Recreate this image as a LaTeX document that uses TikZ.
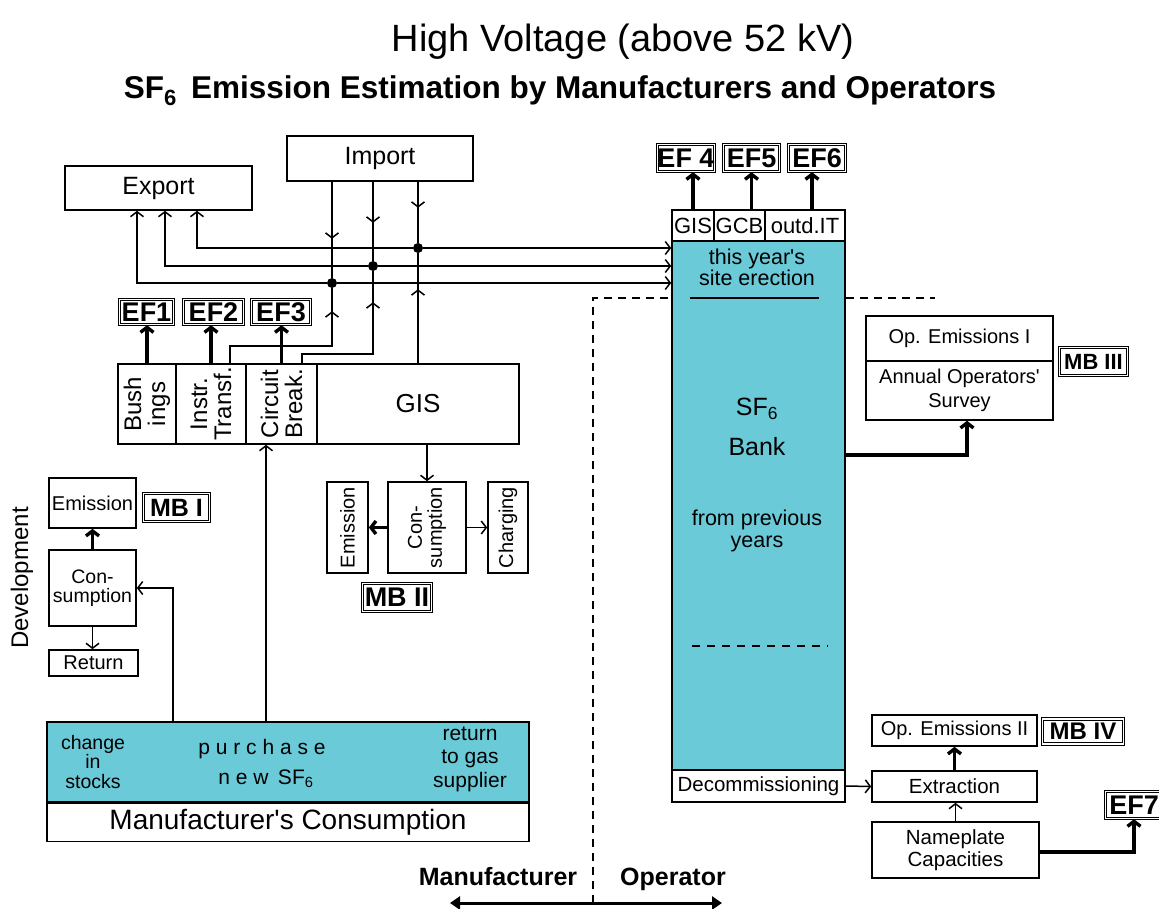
\documentclass[tikz,border=0pt]{standalone}
\usepackage{fontspec}
\setmainfont{Liberation Sans}
\usetikzlibrary{arrows.meta,decorations.markings}
\definecolor{bankcyan}{RGB}{106,202,216}
\newcommand{\fsz}[2]{\fontsize{#1}{#2}\selectfont}
\tikzset{
  box/.style={draw,line width=1.6pt,inner sep=0pt,fill=white,align=center},
  efbox/.style={draw,line width=1.4pt,double,double distance=1.1pt,inner sep=0pt,fill=white,font=\bfseries\fsz{27}{27}},
  wire/.style={line width=1.5pt},
  flow/.style={line width=1.5pt,-{Straight Barb[length=5pt,width=13pt]}},
  heavy/.style={line width=3.4pt,-{Straight Barb[length=5pt,width=13pt]}},
  dot/.style={circle,fill=black,inner sep=0pt,minimum size=10pt},
  vtext/.style={rotate=90,align=center},
  divline/.style={line width=1.5pt,dash pattern=on 8pt off 6pt},
  midarrow/.style={postaction={decorate},decoration={markings,mark=at position #1 with {\arrow{Straight Barb[length=5pt,width=13pt]}}}},
}
\begin{document}
\begin{tikzpicture}[x=1pt,y=-1pt]
  \useasboundingbox (0,0) rectangle (1159,909);
  % titles
  \node[anchor=base,font=\fsz{38}{38}] (title) at (623,52) {High Voltage (above 52 kV)};
  \node[anchor=base,font=\bfseries\fsz{31.5}{31.5}] (subtitle) at (560,99) {SF\textsubscript{6}\hspace{0.45em}Emission Estimation by Manufacturers and Operators};

  % export / import
  \node[box,minimum width=187,minimum height=44,font=\fsz{25}{25}] (export) at (158.5,188) {Export};
  \node[box,minimum width=186,minimum height=45,font=\fsz{25}{25}] (import) at (380,158.5) {Import};
  \node[dot] (d1) at (332,283) {};
  \node[dot] (d2) at (373,266) {};
  \node[dot] (d3) at (418,248) {};

  % manufacturer's products
  \node[box,minimum width=58,minimum height=80] (bush) at (147,404) {};
  \node[vtext,font=\fsz{24}{24}] (bushtxt) at (bush) {Bush\\ings};
  \node[box,minimum width=70,minimum height=80] (instr) at (211,404) {};
  \node[vtext,font=\fsz{24}{24}] (instrtxt) at (instr) {Instr.\\Transf.};
  \node[box,minimum width=71,minimum height=80] (circ) at (281.5,404) {};
  \node[vtext,font=\fsz{24}{24}] (circtxt) at (circ) {Circuit\\Break.};
  \node[box,minimum width=202,minimum height=80,font=\fsz{26}{26}] (gis) at (418,404) {GIS};

  \node[efbox,minimum width=54,minimum height=25] (ef1) at (146.5,312) {EF1};
  \node[efbox,minimum width=60,minimum height=25] (ef2) at (213.5,312) {EF2};
  \node[efbox,minimum width=59,minimum height=25] (ef3) at (281,312) {EF3};
  \draw[heavy] (bush.north) -- (bush.north |- ef1.south);
  \draw[heavy] (instr.north) -- (instr.north |- ef2.south);
  \draw[heavy] (circ.north) -- (circ.north |- ef3.south);

  % flows to export and bank
  \draw[wire,midarrow=57pt] (import.south -| d1) -- (d1);
  \draw[wire,midarrow=41pt] (import.south -| d2) -- (d2);
  \draw[wire,midarrow=26pt] (import.south -| d3) -- (d3);
  \draw[wire,midarrow=154pt] ([xshift=19]instr.north) -- ++(0,-17) -| (d1);
  \draw[wire,midarrow=132pt] ([xshift=20.5]circ.north) -- ++(0,-9) -| (d2);
  \draw[wire,midarrow=74pt] (gis.north -| d3) -- (d3);
  \draw[flow] (d1) -| ([xshift=-21.5]export.south);
  \draw[flow] (d2) -| ([xshift=6.5]export.south);
  \draw[flow] (d3) -| ([xshift=38.5]export.south);

  % development
  \node[box,minimum width=87,minimum height=50,font=\fsz{20}{20}] (emis1) at (92.5,503) {Emission};
  \node[efbox,minimum width=66,minimum height=28,font=\bfseries\fsz{25}{25}] (mb1) at (176.5,507.5) {MB I};
  \node[box,minimum width=87,minimum height=76,font=\fsz{19.5}{19}] (cons1) at (92.5,588) {Con-\\sumption};
  \node[box,minimum width=89,minimum height=26,font=\fsz{20}{20}] (ret) at (93.5,663) {Return};
  \node[vtext,font=\fsz{24}{24}] (devel) at (22,578) {Development};
  \draw[heavy] (cons1.north) -- (emis1.south);
  \draw[flow] (cons1.south) -- (cons1.south |- ret.north);

  % GIS consumption
  \node[box,minimum width=41,minimum height=91] (emis2) at (347.5,527.5) {};
  \node[vtext,font=\fsz{20}{20}] (emis2txt) at (emis2) {Emission};
  \node[box,minimum width=78,minimum height=91] (cons2) at (427,527.5) {};
  \node[vtext,font=\fsz{20}{20}] (cons2txt) at (cons2) {Con-\\sumption};
  \node[box,minimum width=40,minimum height=91] (charge) at (508,527.5) {};
  \node[vtext,font=\fsz{20}{20}] (chargetxt) at (charge) {Charging};
  \node[efbox,minimum width=69,minimum height=28] (mb2) at (397,597.5) {MB II};
  \draw[flow] (cons2.north |- gis.south) -- (cons2.north);
  \draw[heavy] (cons2.west) -- (emis2.east);
  \draw[flow] (cons2.east) -- (charge.west);

  % manufacturer's consumption
  \node[box,fill=bankcyan,minimum width=482,minimum height=80] (purchase) at (288,762) {};
  \node[box,minimum width=482,minimum height=38,font=\fsz{28}{28},anchor=north] (mcons) at (purchase.south) {Manufacturer\textquotesingle s Consumption};
  \node[align=center,font=\fsz{19.5}{19.5}] (stocks) at (93,762) {change\\in\\stocks};
  \node[font=\fsz{21}{21}] (buy) at (262,749) {p u r c h a s e};
  \node[font=\fsz{21}{21}] (newsf) at (266,779) {n e w\, SF\textsubscript{6}};
  \node[align=center,font=\fsz{21}{23.5}] (retgas) at (470,759) {return\\to gas\\supplier};
  \draw[flow] (purchase.north -| 173,0) |- (cons1.east);
  \draw[flow] (purchase.north -| 266,0) -- (circ.south -| 266,0);

  % SF6 bank
  \node[box,fill=bankcyan,minimum width=173,minimum height=529] (bank) at (758.5,505.5) {};
  \node[box,minimum width=42,minimum height=31,font=\fsz{22}{22}] (gisc) at (693,225.5) {GIS};
  \node[box,minimum width=51,minimum height=31,font=\fsz{22}{22}] (gcbc) at (739.5,225.5) {GCB};
  \node[box,minimum width=80,minimum height=31,font=\fsz{22}{22}] (outdc) at (805,225.5) {outd.IT};
  \node[box,minimum width=173,minimum height=32,font=\fsz{20.5}{20.5}] (decom) at (758.5,786) {Decommissioning};
  \node[efbox,minimum width=55,minimum height=27] (ef4) at (686,158) {EF 4};
  \node[efbox,minimum width=56,minimum height=27] (ef5) at (751.5,158) {EF5};
  \node[efbox,minimum width=57,minimum height=27] (ef6) at (817,158) {EF6};
  \draw[heavy] (gisc.north) -- (gisc.north |- ef4.south);
  \draw[heavy] (ef5.south |- gcbc.north) -- (ef5.south);
  \draw[heavy] ([xshift=7]outdc.north) -- ([xshift=7]outdc.north |- ef6.south);
  \draw[flow] (d1) -- (d1 -| bank.west);
  \draw[flow] (d2) -- (d2 -| bank.west);
  \draw[flow] (d3) -- (d3 -| bank.west);

  \node[align=center,font=\fsz{21.5}{20}] (erect) at (757,267) {this year\textquotesingle s\\site erection};
  \draw[wire] (690,298) -- (819,298);
  \node[font=\fsz{25}{25}] (sfbank) at (757,409) {SF\textsubscript{6}};
  \node[font=\fsz{25}{25}] (banktxt) at (757,447) {Bank};
  \node[align=center,font=\fsz{21.5}{22}] (prev) at (757,531) {from previous\\years};
  \draw[wire,dash pattern=on 8pt off 7pt] (692,646) -- (828,646);

  % manufacturer / operator divide
  \coordinate (divtop) at (593,298);
  \coordinate (divbot) at (593,903);
  \draw[divline] (divbot) -- (divtop) -- (divtop -| bank.west);
  \draw[divline] (divtop -| bank.east) -- (935,298);
  \coordinate (mleft) at (450,903);
  \coordinate (oright) at (722,903);
  \draw[line width=3pt,{Triangle[length=10pt,width=13pt]}-{Triangle[length=10pt,width=13pt]}] (mleft) -- (oright);
  \node[anchor=base,font=\bfseries\fsz{25}{25}] (mlab) at (498,885) {Manufacturer};
  \node[anchor=base,font=\bfseries\fsz{25}{25}] (olab) at (673,885) {Operator};

  % operators
  \node[box,minimum width=187,minimum height=45,font=\fsz{20}{20}] (opem1) at (959.5,338.5) {Op. Emissions I};
  \node[box,minimum width=187,minimum height=59,font=\fsz{20}{24}] (survey) at (959.5,390.5) {Annual Operators\textquotesingle\\Survey};
  \node[efbox,minimum width=68,minimum height=28,font=\bfseries\fsz{22}{22}] (mb3) at (1093.5,361.5) {MB III};
  \draw[heavy] (bank.east |- 0,455) -| ([xshift=7.5]survey.south);

  \node[box,minimum width=165,minimum height=31,font=\fsz{20}{20}] (opem2) at (954.5,730.5) {Op. Emissions II};
  \node[efbox,minimum width=81,minimum height=25,font=\bfseries\fsz{24}{24}] (mb4) at (1083,731.5) {MB IV};
  \node[box,minimum width=165,minimum height=31,font=\fsz{20.5}{20.5}] (extract) at (954.5,786.5) {Extraction};
  \node[box,minimum width=167,minimum height=56,font=\fsz{20.5}{22}] (plate) at (955.5,850) {Nameplate\\Capacities};
  \node[efbox,minimum width=57,minimum height=27] (ef7) at (1134,805) {EF7};
  \draw[heavy] (extract.north) -- (opem2.south);
  \draw[flow] (plate.north) -- (plate.north |- extract.south);
  \draw[flow] (decom.east) -- (extract.west);
  \draw[heavy] (plate.east |- 0,852) -| (ef7.south);
\end{tikzpicture}
\end{document}
